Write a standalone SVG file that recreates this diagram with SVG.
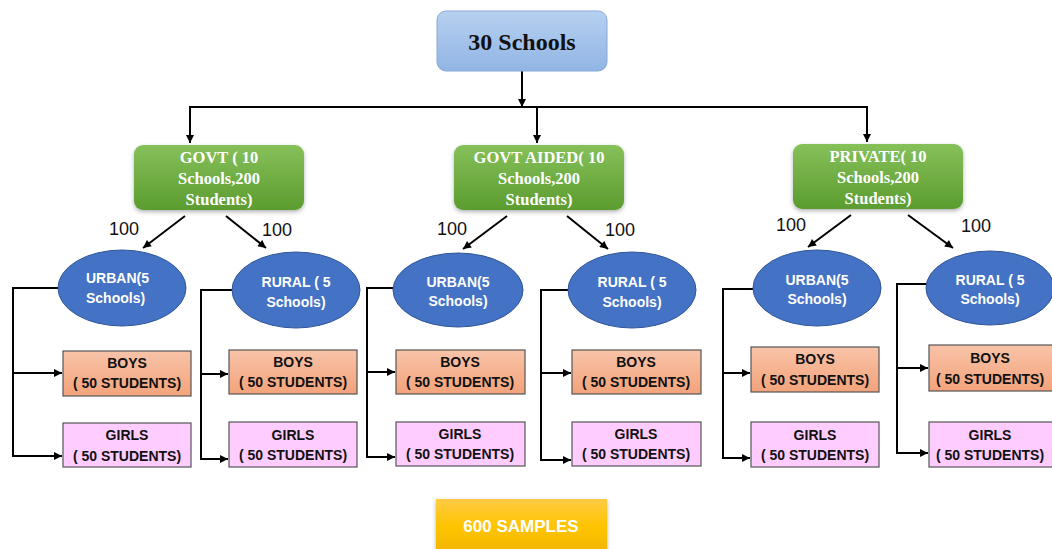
<svg xmlns="http://www.w3.org/2000/svg" width="1052" height="549" viewBox="0 0 1052 549">
<defs>
<linearGradient id="gBlue" x1="0" y1="0" x2="0" y2="1"><stop offset="0" stop-color="#b7d0f0"/><stop offset="1" stop-color="#91b5e4"/></linearGradient>
<linearGradient id="gGreen" x1="0" y1="0" x2="0" y2="1"><stop offset="0" stop-color="#86c05a"/><stop offset="1" stop-color="#5b9c2f"/></linearGradient>
<linearGradient id="gPeach" x1="0" y1="0" x2="0" y2="1"><stop offset="0" stop-color="#f8c3a8"/><stop offset="1" stop-color="#f3a37b"/></linearGradient>
<linearGradient id="gYellow" x1="0" y1="0" x2="0" y2="1"><stop offset="0" stop-color="#ffcb45"/><stop offset="0.5" stop-color="#ffc400"/><stop offset="1" stop-color="#f0b500"/></linearGradient>
<filter id="sh" x="-10%" y="-10%" width="120%" height="130%"><feDropShadow dx="0" dy="2" stdDeviation="2" flood-color="#000" flood-opacity="0.3"/></filter>
<marker id="ah" viewBox="0 0 10 10" refX="10" refY="5" markerWidth="9" markerHeight="8" markerUnits="userSpaceOnUse" orient="auto"><path d="M0,0 L10,5 L0,10 z" fill="#000"/></marker>
</defs>
<style>
.ln{fill:none;stroke:#000;stroke-width:2}
.ar{fill:none;stroke:#000;stroke-width:2;marker-end:url(#ah)}
.top{fill:url(#gBlue);stroke:#86a9d9;stroke-width:1}
.grn{fill:url(#gGreen);filter:url(#sh)}
.ell{fill:#4472c4;stroke:#2f5597;stroke-width:1}
.boy{fill:url(#gPeach);stroke:#555;stroke-width:1.2}
.girl{fill:#ffccff;stroke:#555;stroke-width:1.2}
.ttl{font-family:"Liberation Serif",serif;font-weight:bold;font-size:24px;fill:#111;text-anchor:middle}
.gt{font-family:"Liberation Serif",serif;font-weight:bold;font-size:16.5px;fill:#fff;text-anchor:middle}
.et{font-family:"Liberation Sans",sans-serif;font-weight:bold;font-size:14px;fill:#fff;text-anchor:middle}
.els{text-anchor:start}
.bt{font-family:"Liberation Sans",sans-serif;font-weight:bold;font-size:14px;fill:#111;text-anchor:middle}
.num{font-family:"Liberation Sans",sans-serif;font-size:18px;fill:#111;text-anchor:middle}
.st{font-family:"Liberation Sans",sans-serif;font-weight:bold;font-size:17px;fill:#fff;text-anchor:middle}
</style>

<g id="connectors">
<line class="ar" x1="522" y1="71" x2="522" y2="107"/>
<line class="ln" x1="189" y1="107" x2="868" y2="107"/>
<line class="ar" x1="190" y1="107" x2="190" y2="143"/>
<line class="ar" x1="537" y1="107" x2="537" y2="143"/>
<line class="ar" x1="867" y1="107" x2="867" y2="142"/>

<line class="ar" x1="185" y1="216" x2="143" y2="248"/>
<line class="ar" x1="226" y1="216" x2="266" y2="248"/>
<line class="ar" x1="507" y1="216" x2="463" y2="249"/>
<line class="ar" x1="567" y1="216" x2="608" y2="249"/>
<line class="ar" x1="851" y1="215" x2="808" y2="247"/>
<line class="ar" x1="908" y1="215" x2="953" y2="248"/>

<polyline class="ln" points="58,288 13,288 13,456"/>
<line class="ar" x1="13" y1="373" x2="62" y2="373"/>
<line class="ar" x1="12" y1="456" x2="62" y2="456"/>

<polyline class="ln" points="232,290 201,290 201,459"/>
<line class="ar" x1="201" y1="374" x2="228" y2="374"/>
<line class="ar" x1="200" y1="459" x2="228" y2="459"/>

<polyline class="ln" points="393,288 367,288 367,457"/>
<line class="ar" x1="367" y1="372" x2="395" y2="372"/>
<line class="ar" x1="366" y1="457" x2="395" y2="457"/>

<polyline class="ln" points="569,290 541,290 541,460"/>
<line class="ar" x1="541" y1="373" x2="571" y2="373"/>
<line class="ar" x1="540" y1="460" x2="571" y2="460"/>

<polyline class="ln" points="753,289 723,289 723,458"/>
<line class="ar" x1="723" y1="373" x2="750" y2="373"/>
<line class="ar" x1="722" y1="458" x2="750" y2="458"/>

<polyline class="ln" points="928,284 897,284 897,453"/>
<line class="ar" x1="897" y1="368" x2="928" y2="368"/>
<line class="ar" x1="896" y1="453" x2="928" y2="453"/>
</g>

<g id="labels">
<text class="num" x="124" y="235">100</text>
<text class="num" x="277" y="236">100</text>
<text class="num" x="452" y="235">100</text>
<text class="num" x="620" y="236">100</text>
<text class="num" x="791" y="231">100</text>
<text class="num" x="976" y="232">100</text>
</g>

<g id="root">
<rect class="top" x="437" y="11" width="170" height="60" rx="9"/>
<text class="ttl" x="522" y="50">30 Schools</text>
</g>

<g id="govt">
<rect class="grn" x="134" y="145" width="170" height="65" rx="9"/>
<text class="gt" x="219" y="163">GOVT ( 10</text>
<text class="gt" x="219" y="184">Schools,200</text>
<text class="gt" x="219" y="205">Students)</text>
</g>
<g id="govt-aided">
<rect class="grn" x="454" y="145" width="170" height="65" rx="9"/>
<text class="gt" x="539" y="163">GOVT AIDED( 10</text>
<text class="gt" x="539" y="184">Schools,200</text>
<text class="gt" x="539" y="205">Students)</text>
</g>
<g id="private">
<rect class="grn" x="793" y="144" width="170" height="65" rx="9"/>
<text class="gt" x="878" y="162">PRIVATE( 10</text>
<text class="gt" x="878" y="183">Schools,200</text>
<text class="gt" x="878" y="204">Students)</text>
</g>

<g id="govt-urban">
<ellipse class="ell" cx="122" cy="288" rx="64" ry="38"/>
<text class="et els" x="86" y="283">URBAN(5</text>
<text class="et els" x="86" y="303">Schools)</text>
</g>
<g id="govt-rural">
<ellipse class="ell" cx="296" cy="290" rx="64" ry="38"/>
<text class="et" x="296" y="287">RURAL ( 5</text>
<text class="et" x="296" y="307">Schools)</text>
</g>
<g id="aided-urban">
<ellipse class="ell" cx="458" cy="290" rx="65" ry="37"/>
<text class="et" x="458" y="287">URBAN(5</text>
<text class="et" x="458" y="306">Schools)</text>
</g>
<g id="aided-rural">
<ellipse class="ell" cx="632" cy="290" rx="64" ry="38"/>
<text class="et" x="632" y="287">RURAL ( 5</text>
<text class="et" x="632" y="307">Schools)</text>
</g>
<g id="private-urban">
<ellipse class="ell" cx="817" cy="288" rx="64" ry="38"/>
<text class="et" x="817" y="285">URBAN(5</text>
<text class="et" x="817" y="304">Schools)</text>
</g>
<g id="private-rural">
<ellipse class="ell" cx="990" cy="288" rx="64" ry="37"/>
<text class="et" x="990" y="285">RURAL ( 5</text>
<text class="et" x="990" y="304">Schools)</text>
</g>

<g id="govt-urban-boys"><rect class="boy" x="63" y="351" width="128" height="45"/><text class="bt" x="127" y="368">BOYS</text><text class="bt" x="127" y="388">( 50 STUDENTS)</text></g>
<g id="govt-urban-girls"><rect class="girl" x="63" y="423" width="128" height="44"/><text class="bt" x="127" y="440">GIRLS</text><text class="bt" x="127" y="461">( 50 STUDENTS)</text></g>
<g id="govt-rural-boys"><rect class="boy" x="229" y="350" width="128" height="44"/><text class="bt" x="293" y="367">BOYS</text><text class="bt" x="293" y="387">( 50 STUDENTS)</text></g>
<g id="govt-rural-girls"><rect class="girl" x="229" y="422" width="128" height="45"/><text class="bt" x="293" y="440">GIRLS</text><text class="bt" x="293" y="460">( 50 STUDENTS)</text></g>
<g id="aided-urban-boys"><rect class="boy" x="396" y="350" width="129" height="44"/><text class="bt" x="460" y="367">BOYS</text><text class="bt" x="460" y="387">( 50 STUDENTS)</text></g>
<g id="aided-urban-girls"><rect class="girl" x="396" y="422" width="129" height="44"/><text class="bt" x="460" y="439">GIRLS</text><text class="bt" x="460" y="459">( 50 STUDENTS)</text></g>
<g id="aided-rural-boys"><rect class="boy" x="572" y="350" width="129" height="44"/><text class="bt" x="636" y="367">BOYS</text><text class="bt" x="636" y="387">( 50 STUDENTS)</text></g>
<g id="aided-rural-girls"><rect class="girl" x="572" y="422" width="129" height="44"/><text class="bt" x="636" y="439">GIRLS</text><text class="bt" x="636" y="459">( 50 STUDENTS)</text></g>
<g id="private-urban-boys"><rect class="boy" x="751" y="347" width="128" height="45"/><text class="bt" x="815" y="364">BOYS</text><text class="bt" x="815" y="385">( 50 STUDENTS)</text></g>
<g id="private-urban-girls"><rect class="girl" x="751" y="422" width="128" height="45"/><text class="bt" x="815" y="440">GIRLS</text><text class="bt" x="815" y="460">( 50 STUDENTS)</text></g>
<g id="private-rural-boys"><rect class="boy" x="929" y="345" width="128" height="46"/><text class="bt" x="990" y="363">BOYS</text><text class="bt" x="990" y="384">( 50 STUDENTS)</text></g>
<g id="private-rural-girls"><rect class="girl" x="929" y="422" width="128" height="45"/><text class="bt" x="990" y="440">GIRLS</text><text class="bt" x="990" y="460">( 50 STUDENTS)</text></g>

<g id="samples">
<rect x="436" y="499" width="171" height="56" fill="url(#gYellow)" filter="url(#sh)"/>
<text class="st" x="521" y="532">600 SAMPLES</text>
</g>
</svg>
